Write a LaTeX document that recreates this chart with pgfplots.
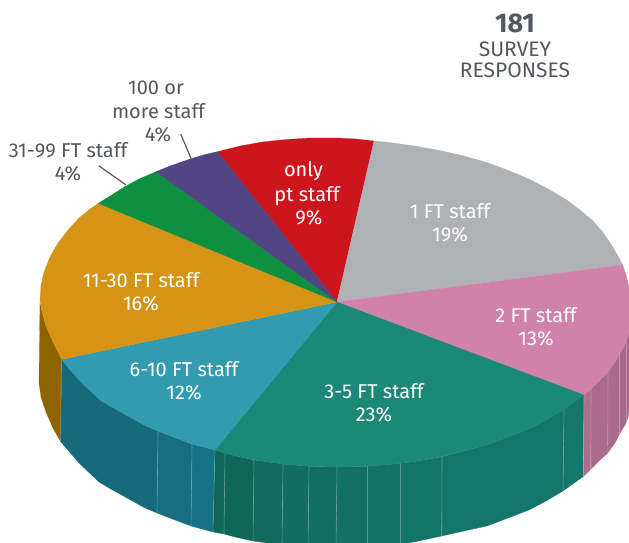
\documentclass[border=0pt]{standalone}
\usepackage{pgfplots}
\pgfplotsset{compat=1.18}
\usepackage{fontspec}
\setmainfont{Fira Sans}
\definecolor{txt}{HTML}{54585C}
\definecolor{gs}{HTML}{8F6300}
\definecolor{bsa}{HTML}{176A7B}
\definecolor{bsb}{HTML}{176E80}
\definecolor{bsc}{HTML}{187287}
\definecolor{tsa}{HTML}{0F6659}
\definecolor{tsb}{HTML}{0F675A}
\definecolor{tsc}{HTML}{116A5D}
\definecolor{tsd}{HTML}{126C5F}
\definecolor{tse}{HTML}{136E62}
\definecolor{tsf}{HTML}{137065}
\definecolor{tsg}{HTML}{137266}
\definecolor{tsh}{HTML}{137468}
\definecolor{tsi}{HTML}{14766A}
\definecolor{tsj}{HTML}{13786A}
\definecolor{psa}{HTML}{AD6E8E}
\definecolor{psb}{HTML}{AB6C8C}
\definecolor{psc}{HTML}{A96A8B}
\definecolor{psd}{HTML}{A7698A}
\definecolor{pse}{HTML}{A56889}
\definecolor{tred}{HTML}{CD151D}
\definecolor{tgry}{HTML}{B0B1B4}
\definecolor{tpnk}{HTML}{D082A8}
\definecolor{ttea}{HTML}{1C8877}
\definecolor{tblu}{HTML}{329BB0}
\definecolor{tgld}{HTML}{D69315}
\definecolor{tgrn}{HTML}{0F9040}
\definecolor{tpur}{HTML}{514583}
\newcommand\sect[2]{\addplot[fill=#1,draw=#1,line width=0.2pt] coordinates {#2} --cycle;}
\newcommand\strip[2]{\addplot[white,opacity=0.3,line width=0.6pt] coordinates {#1 #2};}
\newcommand\lab[5]{\node[anchor=base,inner sep=0pt,text=#1] at (axis cs:#2,#3) {\fontsize{#4}{#4}\selectfont #5};}
\begin{document}
\begin{tikzpicture}
\begin{axis}[name=ax,width=629pt,height=543pt,scale only axis,hide axis,
  xmin=0,xmax=629,ymin=0,ymax=543,y dir=reverse,clip=true]
% ---- side wall
\sect{gs}{(61.7,359.3)(53,342)(46,326)(42,312)(40,303)(39,383)(41,397)(46,412)(53,428)(60.7,441.7)}
\sect{bsa}{(61.7,359.3)(80,381)(100,400)(110,406)(128,416)(146,426)(158,431)(157,513)(145,508)(127,498)(109,488)(99,482)(79,463)(60.7,441.7)}
\sect{bsb}{(158,431)(168,435)(192,444)(191,526)(167,517)(157,513)}
\sect{bsc}{(192,444)(215,450)(213,532)(191,526)}
\sect{tsa}{(215,450)(225,453)(224,534)(213,532)}
\sect{tsb}{(225,453)(236,456)(254,460)(253,541)(235,537)(224,534)}
\sect{tsc}{(254,460)(283,464)(282,545)(253,541)}
\sect{tsd}{(283,464)(309,466.3)(308,547)(282,545)}
\sect{tse}{(309,466.3)(337,467)(336,548)(308,547)}
\sect{tsf}{(337,467)(367,466.3)(367,547)(336,548)}
\sect{tsg}{(367,466.3)(400,463.3)(400,544)(367,547)}
\sect{tsh}{(400,463.3)(415,461.5)(442,456.8)(441.7,536)(414,542)(400,544)}
\sect{tsi}{(442,456.8)(464,451)(487,444.9)(508,437)(529.6,428.4)(546,420)(564,409.2)(563,491)(546,501)(529,510)(508,518)(487,526)(464,531)(441.7,536)}
\sect{tsj}{(564,409.2)(584,395)(583.3,476.5)(563,491)}
\sect{psa}{(584,395)(591,389)(590.7,469.5)(583.3,476.5)}
\sect{psb}{(591,389)(600,380)(608,372)(607.7,453)(599,461)(590.7,469.5)}
\sect{psc}{(608,372)(615,362)(619,354)(619,435)(615,443)(607.7,453)}
\sect{psd}{(619,354)(622,350)(626,342)(626,423)(622,430)(619,435)}
\sect{pse}{(626,342)(628,337)(631,312)(631,393)(628,418)(626,423)}
% light seams in the wall
\strip{(61.3,359.3)}{(60.6,441)}
\strip{(158,431)}{(157,513)}
\strip{(192,444)}{(191,526)}
\strip{(215,450)}{(213,532)}
\strip{(225,453)}{(224,534)}
\strip{(254,460)}{(253,541)}
\strip{(283,464)}{(282,545)}
\strip{(309,466.3)}{(308,547)}
\strip{(337,467)}{(336,548)}
\strip{(367,466.3)}{(367,547)}
\strip{(400,463.3)}{(400,544)}
\strip{(442,456.8)}{(441.7,536)}
\strip{(564,409.2)}{(563,491)}
\strip{(584,395)}{(583.3,476.5)}
\strip{(591,389)}{(590.7,469.5)}
\strip{(608,372)}{(607.7,445)}
\strip{(619,354)}{(619,435)}
\strip{(626,342)}{(626,423)}
% ---- top face
\sect{tred}{(337,302)(217.3,151.7)(240,146)(262,142)(286,139.5)(310,138)(338,138)(356,139)(374,141)}
\sect{tgry}{(337,302)(374,141)(390,142.5)(415,146)(440,150.5)(464,156)(487,162.5)(510,171)(530,179.5)(550,190)(566,199.5)(580,210)(592,220)(602,231)(611,244)(618,256)(622.7,265)}
\sect{tpnk}{(337,302)(622.7,265)(626,275)(629,287)(631,300)(631,312)(630,325)(628,337)(622,350)(615,362)(608,372)(600,380)(592,388)(584,395)}
\sect{ttea}{(337,302)(584,395)(566,408)(546,420)(529.6,428.4)(508,437)(487,444.9)(464,451)(440,457)(415,461.5)(389.7,464.5)(364,466.5)(338,467)(312,466.5)(286,464.5)(261,461)(236,456)(225,453)(215,450)}
\sect{tblu}{(337,302)(215,450)(189,443)(168,435)(146,426)(128,416)(110,406)(100,400)(80,381)(70,370)(61.7,359.3)}
\sect{tgld}{(337,302)(61.7,359.3)(53,342)(46,326)(42,312)(40,300)(41,285)(44,272)(50,257)(58,243)(68,230)(79,218)(90,209)(98.3,203.3)}
\sect{tgrn}{(337,302)(98.3,203.3)(110,196)(126,186)(140,178.5)(156,171.7)}
\sect{tpur}{(337,302)(156,171.7)(170,166)(190,159)(205,154.5)(217.3,151.7)}
% ---- leaders
\addplot[color=txt,line width=1.2pt] coordinates {(98.7,165.7)(126,185)};
\addplot[color=txt,line width=1.2pt] coordinates {(180.7,134)(191,158.3)};
% ---- labels
\lab{white}{303.5}{176.7}{20}{only}
\lab{white}{307}{201}{20}{pt staff}
\lab{white}{309}{224}{20}{9\%}
\lab{white}{450}{218}{20}{1 FT staff}
\lab{white}{450}{241.7}{20}{19\%}
\lab{white}{536}{322.7}{20}{2 FT staff}
\lab{white}{536}{345.7}{20}{13\%}
\lab{white}{374}{398}{20}{3-5 FT staff}
\lab{white}{374}{421.7}{20}{23\%}
\lab{white}{184}{376}{20}{6-10 FT staff}
\lab{white}{184}{399}{20}{12\%}
\lab{white}{141}{287}{20}{11-30 FT staff}
\lab{white}{141}{310}{20}{16\%}
\lab{txt}{156}{95}{20}{100 or}
\lab{txt}{158.5}{118}{20}{more staff}
\lab{txt}{158}{141}{20}{4\%}
\lab{txt}{68}{157}{20}{31-99 FT staff}
\lab{txt}{68}{180}{20}{4\%}
\lab{txt}{515}{32.7}{27}{\bfseries 181}
\lab{txt}{515}{56.7}{21}{SURVEY}
\lab{txt}{515}{77.7}{21}{RESPONSES}
\end{axis}
\pgfresetboundingbox
\path[use as bounding box] (ax.south west) rectangle (ax.north east);
\end{tikzpicture}
\end{document}
